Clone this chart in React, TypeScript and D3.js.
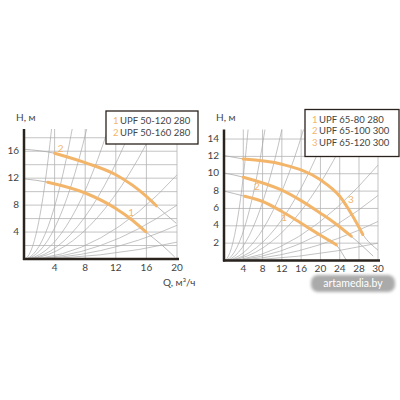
import React from "react";
import * as d3 from "d3";

// ---------- data ----------
const leftXTicks = [4, 8, 12, 16, 20];
const leftYTicks = [4, 8, 12, 16];
const leftHGrid = [2, 4, 6, 8, 10, 12, 14, 16, 18];
const leftVGrid = [4, 8, 12, 16, 20];
const leftCurve1 = [[0, 11.9], [3.1, 11.4], [8, 9.8], [12, 7.5], [14, 5.9], [15.9, 4.05], [18, 2.1], [19.7, 0.3]];
const leftCurve1Thick = [3.1, 15.9];
const leftCurve2 = [[0, 16.3], [4, 15.7], [8, 14.3], [12, 12.5], [16, 9.3], [17.3, 7.9], [19.9, 5.3]];
const leftCurve2Thick = [4, 17.3];
const leftLabels = [["1", 14, 6.7], ["2", 4.8, 16.2]];
// system curves (parabolas from origin) given by exit point
const leftSystem = [[3.6, 19.3], [6.3, 19.3], [8.2, 19.3], [11, 19.3], [14, 19.3], [17, 19.3], [20, 12.5], [20, 8], [20, 5], [20, 2.5]];
const leftLegend = ["UPF 50-120 280", "UPF 50-160 280"];

const rightXTicks = [4, 8, 12, 16, 20, 24, 28, 30];
const rightYTicks = [2, 4, 6, 8, 10, 12, 14];
const rightHGrid = [2, 4, 6, 8, 10, 12, 14];
const rightVGrid = [4, 8, 12, 16, 20, 24, 28, 30];
const rightCurve1 = [[0, 8.0], [4.3, 7.4], [8, 6.8], [12, 5.65], [16, 4.3], [20, 2.9], [23.3, 1.8], [25.4, 0]];
const rightCurve1Thick = [4.3, 23.3];
const rightCurve2 = [[0, 10.1], [4, 9.6], [12, 8.1], [16, 6.9], [20, 5.45], [23, 4.3], [26.4, 2.8], [29.5, 0.5]];
const rightCurve2Thick = [4, 26.4];
const rightCurve3 = [[0, 12.1], [4, 11.7], [12, 11.1], [20, 9.3], [24, 7.4], [26.5, 5.3], [28.4, 3.0], [30, 1.2]];
const rightCurve3Thick = [4, 28.4];
const rightLabels = [["1", 12.5, 4.9], ["2", 6.8, 8.45], ["3", 26.3, 6.9]];
const rightSystem = [[5, 15.1], [8.5, 15.1], [12, 15.1], [16.5, 15.1], [21.5, 15.1], [26, 15.1], [30, 11], [30, 7.5], [30, 4.5], [30, 2]];
const rightLegend = ["UPF 65-80 280", "UPF 65-100 300", "UPF 65-120 300"];

const ORANGE = "#f3b56a";
const GRID = "#b4b4b4";
const SYS = "#a9a9a9";
const AXIS = "#2a221d";
const TXT = "#444";
const FONT = "Lato, 'Open Sans', sans-serif";

type Pt = number[];

function Panel({ x, y, xTicks, yTicks, hGrid, vGrid, curves, thick, labels, system, yMax }: any) {
  const line = d3
    .line<Pt>()
    .x((d) => x(d[0]))
    .y((d) => y(d[1]))
    .curve(d3.curveMonotoneX);
  const [x0, x1] = [x(0), x(vGrid[vGrid.length - 1])];
  const [y0, y1] = [y(0), y(yMax)];
  return (
    <g>
      {hGrid.map((h: number) => (
        <line key={"h" + h} x1={x0} x2={x1} y1={y(h)} y2={y(h)} stroke={GRID} strokeWidth={0.8} />
      ))}
      {vGrid.map((q: number) => (
        <line key={"v" + q} x1={x(q)} x2={x(q)} y1={y0} y2={y1} stroke={GRID} strokeWidth={0.8} />
      ))}
      {system.map((p: Pt, i: number) => (
        <path
          key={"s" + i}
          d={`M${x(0)},${y(0)} Q${x(p[0] / 2)},${y(0)} ${x(p[0])},${y(p[1])}`}
          fill="none"
          stroke={SYS}
          strokeWidth={0.7}
        />
      ))}
      {curves.map((c: Pt[], i: number) => (
        <path key={"c" + i} d={line(c) || ""} fill="none" stroke={SYS} strokeWidth={0.8} />
      ))}
      {curves.map((c: Pt[], i: number) => (
        <path
          key={"t" + i}
          d={line(c.filter((p) => p[0] >= thick[i][0] && p[0] <= thick[i][1])) || ""}
          fill="none"
          stroke={ORANGE}
          strokeWidth={3}
          strokeLinecap="round"
        />
      ))}
      {labels.map((l: any[], i: number) => (
        <text
          key={"l" + i}
          x={x(l[1])}
          y={y(l[2])}
          fill={ORANGE}
          fontSize={10}
          fontFamily={FONT}
          textAnchor="middle"
          dominantBaseline="middle"
        >
          {l[0]}
        </text>
      ))}
      <line x1={x0} x2={x0} y1={y0 + 1} y2={y1} stroke={AXIS} strokeWidth={2.5} />
      <line x1={x0 - 1} x2={x1 + 2} y1={y0} y2={y0} stroke={AXIS} strokeWidth={2.5} />
      {xTicks.map((t: number) => (
        <text key={"xt" + t} x={x(t)} y={y0 + 9} fontSize={10} fontFamily={FONT} fill={TXT} textAnchor="middle" dominantBaseline="middle">
          {t}
        </text>
      ))}
      {yTicks.map((t: number) => (
        <text key={"yt" + t} x={x0 - 5} y={y(t)} fontSize={10} fontFamily={FONT} fill={TXT} textAnchor="end" dominantBaseline="middle">
          {t}
        </text>
      ))}
    </g>
  );
}

function Legend({ x, y, w, h, items }: any) {
  return (
    <g>
      <rect x={x} y={y} width={w} height={h} fill="#fff" stroke={AXIS} strokeWidth={1.3} />
      {items.map((s: string, i: number) => (
        <g key={i}>
          <text x={x + 7} y={y + 11 + i * 11.5} fontSize={9.5} fontFamily={FONT} fill={ORANGE} dominantBaseline="middle">
            {i + 1}
          </text>
          <text x={x + 14} y={y + 11 + i * 11.5} fontSize={9.5} fontFamily={FONT} fill={TXT} dominantBaseline="middle">
            {s}
          </text>
        </g>
      ))}
    </g>
  );
}

export default function App() {
  const lx = d3.scaleLinear().domain([0, 20]).range([24, 177]);
  const ly = d3.scaleLinear().domain([0, 19.3]).range([259, 129]);
  const rx = d3.scaleLinear().domain([0, 28, 30]).range([224, 359, 378]);
  const ry = d3.scaleLinear().domain([0, 15.1]).range([260.5, 129.5]);
  return (
    <svg width={400} height={400} style={{ position: "absolute", left: 0, top: 0, background: "#fff" }}>
      <defs>
        <filter id="blur" x="-20%" y="-50%" width="140%" height="200%">
          <feGaussianBlur stdDeviation="1.5" />
        </filter>
      </defs>
      <rect width={400} height={400} fill="#fff" />
      <Panel
        x={lx}
        y={ly}
        xTicks={leftXTicks}
        yTicks={leftYTicks}
        hGrid={leftHGrid}
        vGrid={leftVGrid}
        curves={[leftCurve1, leftCurve2]}
        thick={[leftCurve1Thick, leftCurve2Thick]}
        labels={leftLabels}
        system={leftSystem}
        yMax={19.3}
      />
      <Panel
        x={rx}
        y={ry}
        xTicks={rightXTicks}
        yTicks={rightYTicks}
        hGrid={rightHGrid}
        vGrid={rightVGrid}
        curves={[rightCurve1, rightCurve2, rightCurve3]}
        thick={[rightCurve1Thick, rightCurve2Thick, rightCurve3Thick]}
        labels={rightLabels}
        system={rightSystem}
        yMax={15.1}
      />
      <Legend x={106} y={111} w={92} h={33} items={leftLegend} />
      <Legend x={305} y={109.5} w={94} h={47} items={rightLegend} />
      <text x={16} y={118} fontSize={10} fontFamily={FONT} fill={TXT} dominantBaseline="middle">H, м</text>
      <text x={216} y={118} fontSize={10} fontFamily={FONT} fill={TXT} dominantBaseline="middle">H, м</text>
      <text x={163} y={283} fontSize={10} fontFamily={FONT} fill={TXT} dominantBaseline="middle">Q, м³/ч</text>
      <rect x={311} y={275} width={84} height={17} rx={7} fill="#aaaaaa" filter="url(#blur)" />
      <text x={353} y={284} fontSize={10.5} fontFamily={FONT} fill="#fff" textAnchor="middle" dominantBaseline="middle">artamedia.by</text>
    </svg>
  );
}
